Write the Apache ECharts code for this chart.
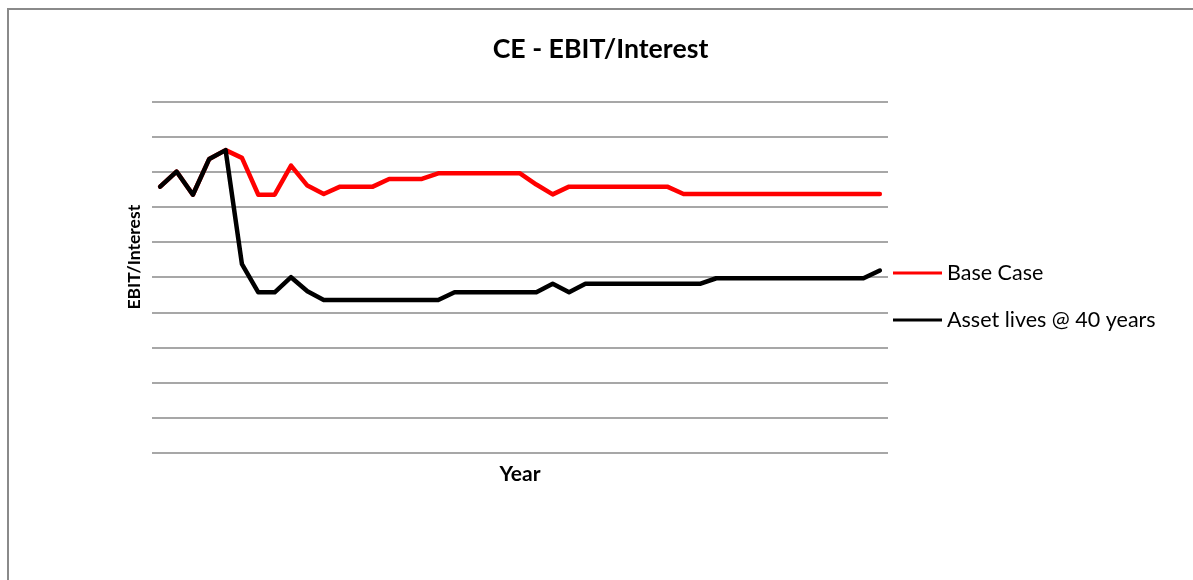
<!DOCTYPE html>
<html>
<head>
<meta charset="utf-8">
<script src="https://cdn.jsdelivr.net/npm/echarts@6/dist/echarts.min.js"></script>
<style>
  html, body { margin: 0; padding: 0; background: #ffffff; }
  #chart { width: 1193px; height: 580px; }
</style>
</head>
<body>
<div id="chart"></div>
<script>
// Reporting periods along the horizontal axis (not labelled on the chart)
const periods = ['1','2','3','4','5','6','7','8','9','10','11','12','13','14','15',
  '16','17','18','19','20','21','22','23','24','25','26','27','28','29','30',
  '31','32','33','34','35','36','37','38','39','40','41','42','43','44','45'];

// EBIT / Interest cover, base case
const baseCase = [7.58, 8.01, 7.35, 8.37, 8.62, 8.40, 7.35, 7.35, 8.18, 7.61, 7.37,
  7.58, 7.58, 7.58, 7.80, 7.80, 7.80, 7.96, 7.96, 7.96, 7.96, 7.96, 7.96,
  7.64, 7.36, 7.58, 7.58, 7.58, 7.58, 7.58, 7.58, 7.58,
  7.37, 7.37, 7.37, 7.37, 7.37, 7.37, 7.37, 7.37, 7.37, 7.37, 7.37, 7.37, 7.37];

// EBIT / Interest cover with asset lives set to 40 years
const assetLives40 = [7.58, 8.01, 7.35, 8.37, 8.62, 5.37, 4.57, 4.57, 5.00, 4.60, 4.35,
  4.35, 4.35, 4.35, 4.35, 4.35, 4.35, 4.35,
  4.57, 4.57, 4.57, 4.57, 4.57, 4.57, 4.81, 4.57,
  4.81, 4.81, 4.81, 4.81, 4.81, 4.81, 4.81, 4.81,
  4.97, 4.97, 4.97, 4.97, 4.97, 4.97, 4.97, 4.97, 4.97, 4.97, 5.19];

const seriesNames = ['Base Case', 'Asset lives @ 40 years'];
const seriesColors = ['#ff0000', '#000000'];

const FONT = 'Lato, "Open Sans", sans-serif';

const chart = echarts.init(document.getElementById('chart'), null, { renderer: 'canvas' });

chart.setOption({
  animation: false,
  backgroundColor: '#ffffff',
  textStyle: { fontFamily: FONT },
  title: {
    text: 'CE - EBIT/Interest',
    left: 600.5,
    textAlign: 'center',
    top: 36,
    padding: 0,
    textStyle: { fontFamily: FONT, fontWeight: 'bold', fontSize: 26.7, color: '#000000' }
  },
  legend: {
    orient: 'vertical',
    left: 893,
    top: 262,
    padding: 0,
    itemWidth: 49,
    itemHeight: 3,
    itemGap: 25,
    icon: 'rect',
    textStyle: { fontFamily: FONT, fontSize: 21.5, lineHeight: 22, color: '#000000' },
    data: seriesNames
  },
  graphic: [{
    type: 'polyline',
    shape: { points: [[8, 580], [8, 9], [1193, 9]] },
    style: { stroke: '#8a8a8a', lineWidth: 2, fill: null },
    silent: true
  }],
  grid: { left: 152, right: 305, top: 101.7, bottom: 127.3, containLabel: false },
  xAxis: {
    type: 'category',
    data: periods,
    boundaryGap: true,
    name: 'Year',
    nameLocation: 'middle',
    nameGap: 11,
    nameTextStyle: { fontFamily: FONT, fontWeight: 'bold', fontSize: 21, color: '#000000', verticalAlign: 'top' },
    axisLine: { show: false },
    axisTick: { show: false },
    axisLabel: { show: false },
    splitLine: { show: false }
  },
  yAxis: {
    type: 'value',
    min: 0,
    max: 10,
    interval: 1,
    name: 'EBIT/Interest',
    nameLocation: 'middle',
    nameGap: 9,
    nameTextStyle: { fontFamily: FONT, fontWeight: 'bold', fontSize: 17.5, color: '#000000', padding: [0, 0, 0, 40] },
    axisLine: { show: false },
    axisTick: { show: false },
    axisLabel: { show: false },
    splitLine: { show: true, lineStyle: { color: '#8a8a8a', width: 1.5 } }
  },
  series: [
    {
      name: seriesNames[0],
      type: 'line',
      data: baseCase,
      symbol: 'none',
      color: seriesColors[0],
      lineStyle: { color: seriesColors[0], width: 4.5, cap: 'round', join: 'round' }
    },
    {
      name: seriesNames[1],
      type: 'line',
      data: assetLives40,
      symbol: 'none',
      color: seriesColors[1],
      lineStyle: { color: seriesColors[1], width: 4.5, cap: 'round', join: 'round' }
    }
  ]
});
</script>
</body>
</html>
